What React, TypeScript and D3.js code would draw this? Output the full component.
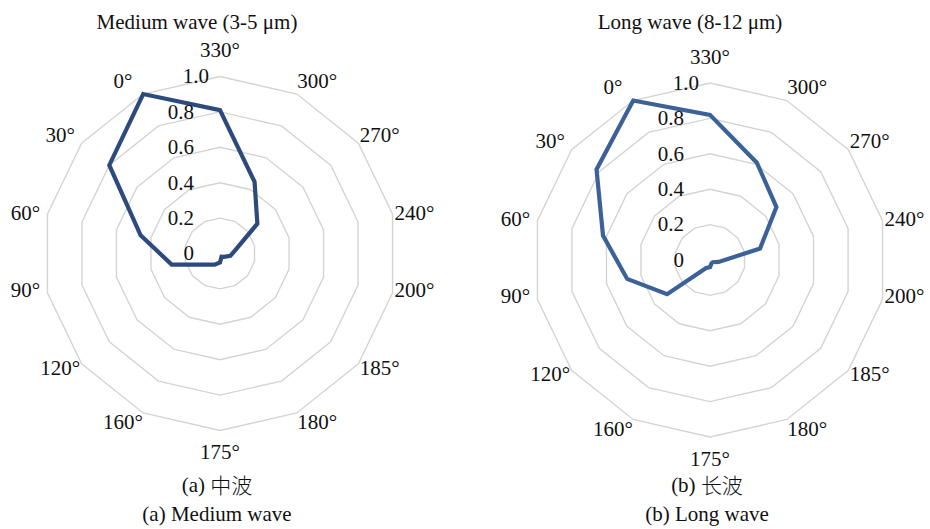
import React from "react";
import * as d3 from "d3";

// radar charts: normalised response vs. observation angle
const categories = ["330°", "300°", "270°", "240°", "200°", "185°", "180°", "175°", "160°", "120°", "90°", "60°", "30°", "0°"];
const mediumWave = [0.81, 0.45, 0.27, 0.09, 0.06, 0.03, 0.02, 0.05, 0.07, 0.1, 0.28, 0.46, 0.8, 1.0];
const longWave = [0.82, 0.61, 0.48, 0.29, 0.05, 0.02, 0.02, 0.04, 0.05, 0.31, 0.48, 0.62, 0.82, 1.0];
const ticks = [0, 0.2, 0.4, 0.6, 0.8, 1.0];
const tickLabels = ["0", "0.2", "0.4", "0.6", "0.8", "1.0"];

const panels = [
  { title: "Medium wave (3-5 μm)", capTag: "(a) ", capCn: "中波", cap2: "(a) Medium wave", values: mediumWave, color: "#2c4a7c", cx: 220, cy: 253.5, titleX: 197 },
  { title: "Long wave (8-12 μm)", capTag: "(b) ", capCn: "长波", cap2: "(b) Long wave", values: longWave, color: "#3b6197", cx: 710, cy: 260, titleX: 690 },
];

const W = 930;
const H = 529;
const FS = 21;
const R = 177;
const serif = { fontFamily: '"Liberation Serif"', fontSize: FS, fill: "#111" };
const cjk = { fontFamily: '"Noto Sans CJK SC"', fontWeight: 300 };

const r = d3.scaleLinear().domain([0, 1]).range([0, R]);
const angle = d3.scaleLinear().domain([0, categories.length]).range([0, 2 * Math.PI]);
const idx = d3.range(categories.length);

// excel-like label placement: side labels pushed out sideways, top/bottom ones clear the ring
function labelPos(i: number) {
  const s = Math.sin(angle(i));
  const c = Math.cos(angle(i));
  if (Math.abs(s) < 0.01) return [0, -Math.sign(c) * (R + 24)];
  return [s * (R + 3) + Math.sign(s) * 19, -c * (R + 18) + Math.sign(c) * 5];
}

function Radar({ p }: { p: (typeof panels)[number] }) {
  const ring = (t: number) =>
    d3.lineRadial<number>().angle((i) => angle(i)).radius(() => r(t)).curve(d3.curveLinearClosed)(idx) || "";
  const line = d3.lineRadial<number>()
    .angle((_, i) => angle(i))
    .radius((d) => r(d))
    .curve(d3.curveLinearClosed);
  return (
    <g>
      <g transform={`translate(${p.cx},${p.cy})`}>
        {ticks.filter((t) => t > 0).map((t) => (
          <path key={t} d={ring(t)} fill="none" stroke="#d4d4d4" strokeWidth={1.4} />
        ))}
        <path d={line(p.values) || ""} fill="none" stroke={p.color} strokeWidth={4.2} strokeLinejoin="miter" />
        {ticks.map((t, i) => (
          <text key={t} x={t === 1 ? -11 : -26} y={-r(t) + 2} textAnchor="end" dominantBaseline="middle" style={serif}>
            {tickLabels[i]}
          </text>
        ))}
        {categories.map((c, i) => {
          const [x, y] = labelPos(i);
          return (
            <text key={c} x={x} y={y} textAnchor="middle" dominantBaseline="middle" style={serif}>
              {c}
            </text>
          );
        })}
      </g>
      <text x={p.titleX} y={24} textAnchor="middle" dominantBaseline="middle" style={serif}>{p.title}</text>
      <text x={p.cx - 3} y={487} textAnchor="middle" dominantBaseline="middle" style={serif}>
        {p.capTag}<tspan style={cjk}>{p.capCn}</tspan>
      </text>
      <text x={p.cx - 3} y={516} textAnchor="middle" dominantBaseline="middle" style={serif}>{p.cap2}</text>
    </g>
  );
}

export default function App() {
  return (
    <svg width={W} height={H} style={{ position: "absolute", left: 0, top: 0, background: "#fff" }}>
      {panels.map((p) => <Radar key={p.title} p={p} />)}
    </svg>
  );
}
